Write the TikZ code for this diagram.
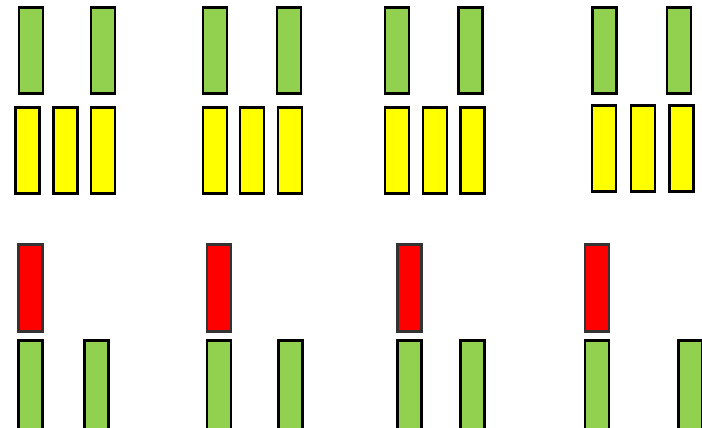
\documentclass[tikz,border=0pt]{standalone}
\usepackage{tikz}
\usetikzlibrary{positioning}
\definecolor{bargreen}{HTML}{92D050}
\definecolor{baryellow}{HTML}{FFFF00}
\definecolor{barred}{HTML}{FF0000}
\definecolor{bargray}{HTML}{333333}
\tikzset{
  bar/.style={draw=black, line width=2.6pt, inner sep=0pt,
    minimum width=24pt, minimum height=86.5pt},
  gbar/.style={bar, fill=bargreen},
  ybar/.style={bar, fill=baryellow},
  rbar/.style={bar, draw=bargray, fill=barred},
  cutbar/.style={gbar, minimum height=92pt}
}

\begin{document}
\begin{tikzpicture}[x=1pt, y=-1pt]
    \useasboundingbox (0,0) rectangle (702,428);
    \clip (0,0) rectangle (702,428);
    % top: two green over three yellow
    \foreach \n/\a/\b in {1/31/103, 2/215/289, 3/397/470.5, 4/604.5/679}{
      \node[gbar] (gl\n) at (\a,50.5) {};
      \node[gbar] (gr\n) at (\b,50.5) {};
    }
    \foreach \n/\a/\b/\c/\y in {1/27.5/65.5/103/150.5, 2/215/252/290/150.5,
        3/397/435/472.5/150.5, 4/604/643/681.5/148.5}{
      \node[ybar] (yl\n) at (\a,\y) {};
      \node[ybar] (ym\n) at (\b,\y) {};
      \node[ybar] (yr\n) at (\c,\y) {};
    }
    % bottom: red over two green, cut off by the edge
    \foreach \n/\a/\b in {1/30.5/96.5, 2/219/290.5, 3/409.5/472.5, 4/597/690.5}{
      \node[rbar] (r\n) at (\a,288) {};
      \node[cutbar] (bl\n) at (\a,386.5) {};
      \node[cutbar] (br\n) at (\b,386.5) {};
    }
  \end{tikzpicture}
\end{document}
